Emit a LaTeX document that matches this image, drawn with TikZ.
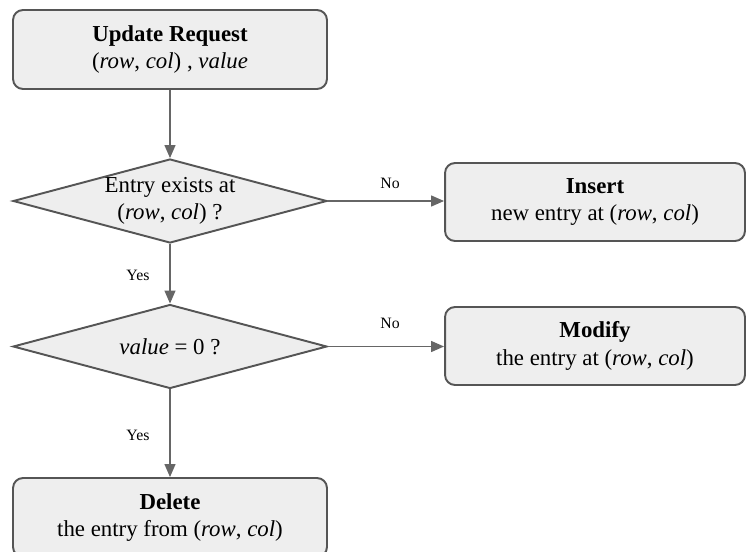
\documentclass[tikz,border=0pt]{standalone}
\usepackage{fontspec}
\setmainfont{Liberation Serif}
\usetikzlibrary{shapes.geometric, arrows.meta, positioning}
\definecolor{boxfill}{HTML}{EEEEEE}
\definecolor{boxline}{HTML}{555555}
\definecolor{flowline}{HTML}{666666}

\begin{document}
\begin{tikzpicture}[x=0.02cm, y=-0.02cm,
  txt/.style={font=\fontsize{13}{15.5}\selectfont},
  process/.style={txt, draw=boxline, fill=boxfill, line width=1.1pt, rounded corners=0.2cm,
    minimum width=6.28cm, minimum height=1.58cm, align=center, inner sep=0pt},
  decision/.style={txt, diamond, draw=boxline, fill=boxfill, line width=1.1pt, aspect=3.74,
    minimum width=6.28cm, minimum height=1.68cm, align=center, inner sep=0pt},
  flow/.style={draw=flowline, line width=0.75pt, -{Triangle[length=2.6mm, width=2.2mm]}},
  lbl/.style={font=\fontsize{9}{10}\selectfont}]
  \useasboundingbox (0,0) rectangle (747,551);
  \clip (0,0) rectangle (747,551);

  % Boxes
  \node[process] (request) at (170,49.5) {\textbf{Update Request}\\(\textit{row}, \textit{col}) , \textit{value}};
  \node[decision] (exists) at (170,201) {Entry exists at\\(\textit{row}, \textit{col}) ?};
  \node[process, minimum width=6cm, minimum height=1.56cm] (insert) at (595,202) {\textbf{Insert}\\new entry at (\textit{row}, \textit{col})};
  \node[decision] (iszero) at (170,346.5) {\textit{value} = 0 ?};
  \node[process, minimum width=6cm, minimum height=1.56cm] (modify) at (595,346) {\textbf{Modify}\\the entry at (\textit{row}, \textit{col})};
  \node[process] (delete) at (170,517.5) {\textbf{Delete}\\the entry from (\textit{row}, \textit{col})};

  % Arrows
  \draw[flow] (request) -- (exists);
  \draw[flow] (exists.east) -- (insert.west |- exists.east);
  \draw[flow] (exists) -- (iszero);
  \draw[flow] (iszero.east) -- (modify.west |- iszero.east);
  \draw[flow] (iszero) -- (delete);

  % Labels
  \node[lbl] (no1) at (390,183) {No};
  \node[lbl] (yes1) at (138,275) {Yes};
  \node[lbl] (no2) at (390,323) {No};
  \node[lbl] (yes2) at (138,435) {Yes};
\end{tikzpicture}
\end{document}
